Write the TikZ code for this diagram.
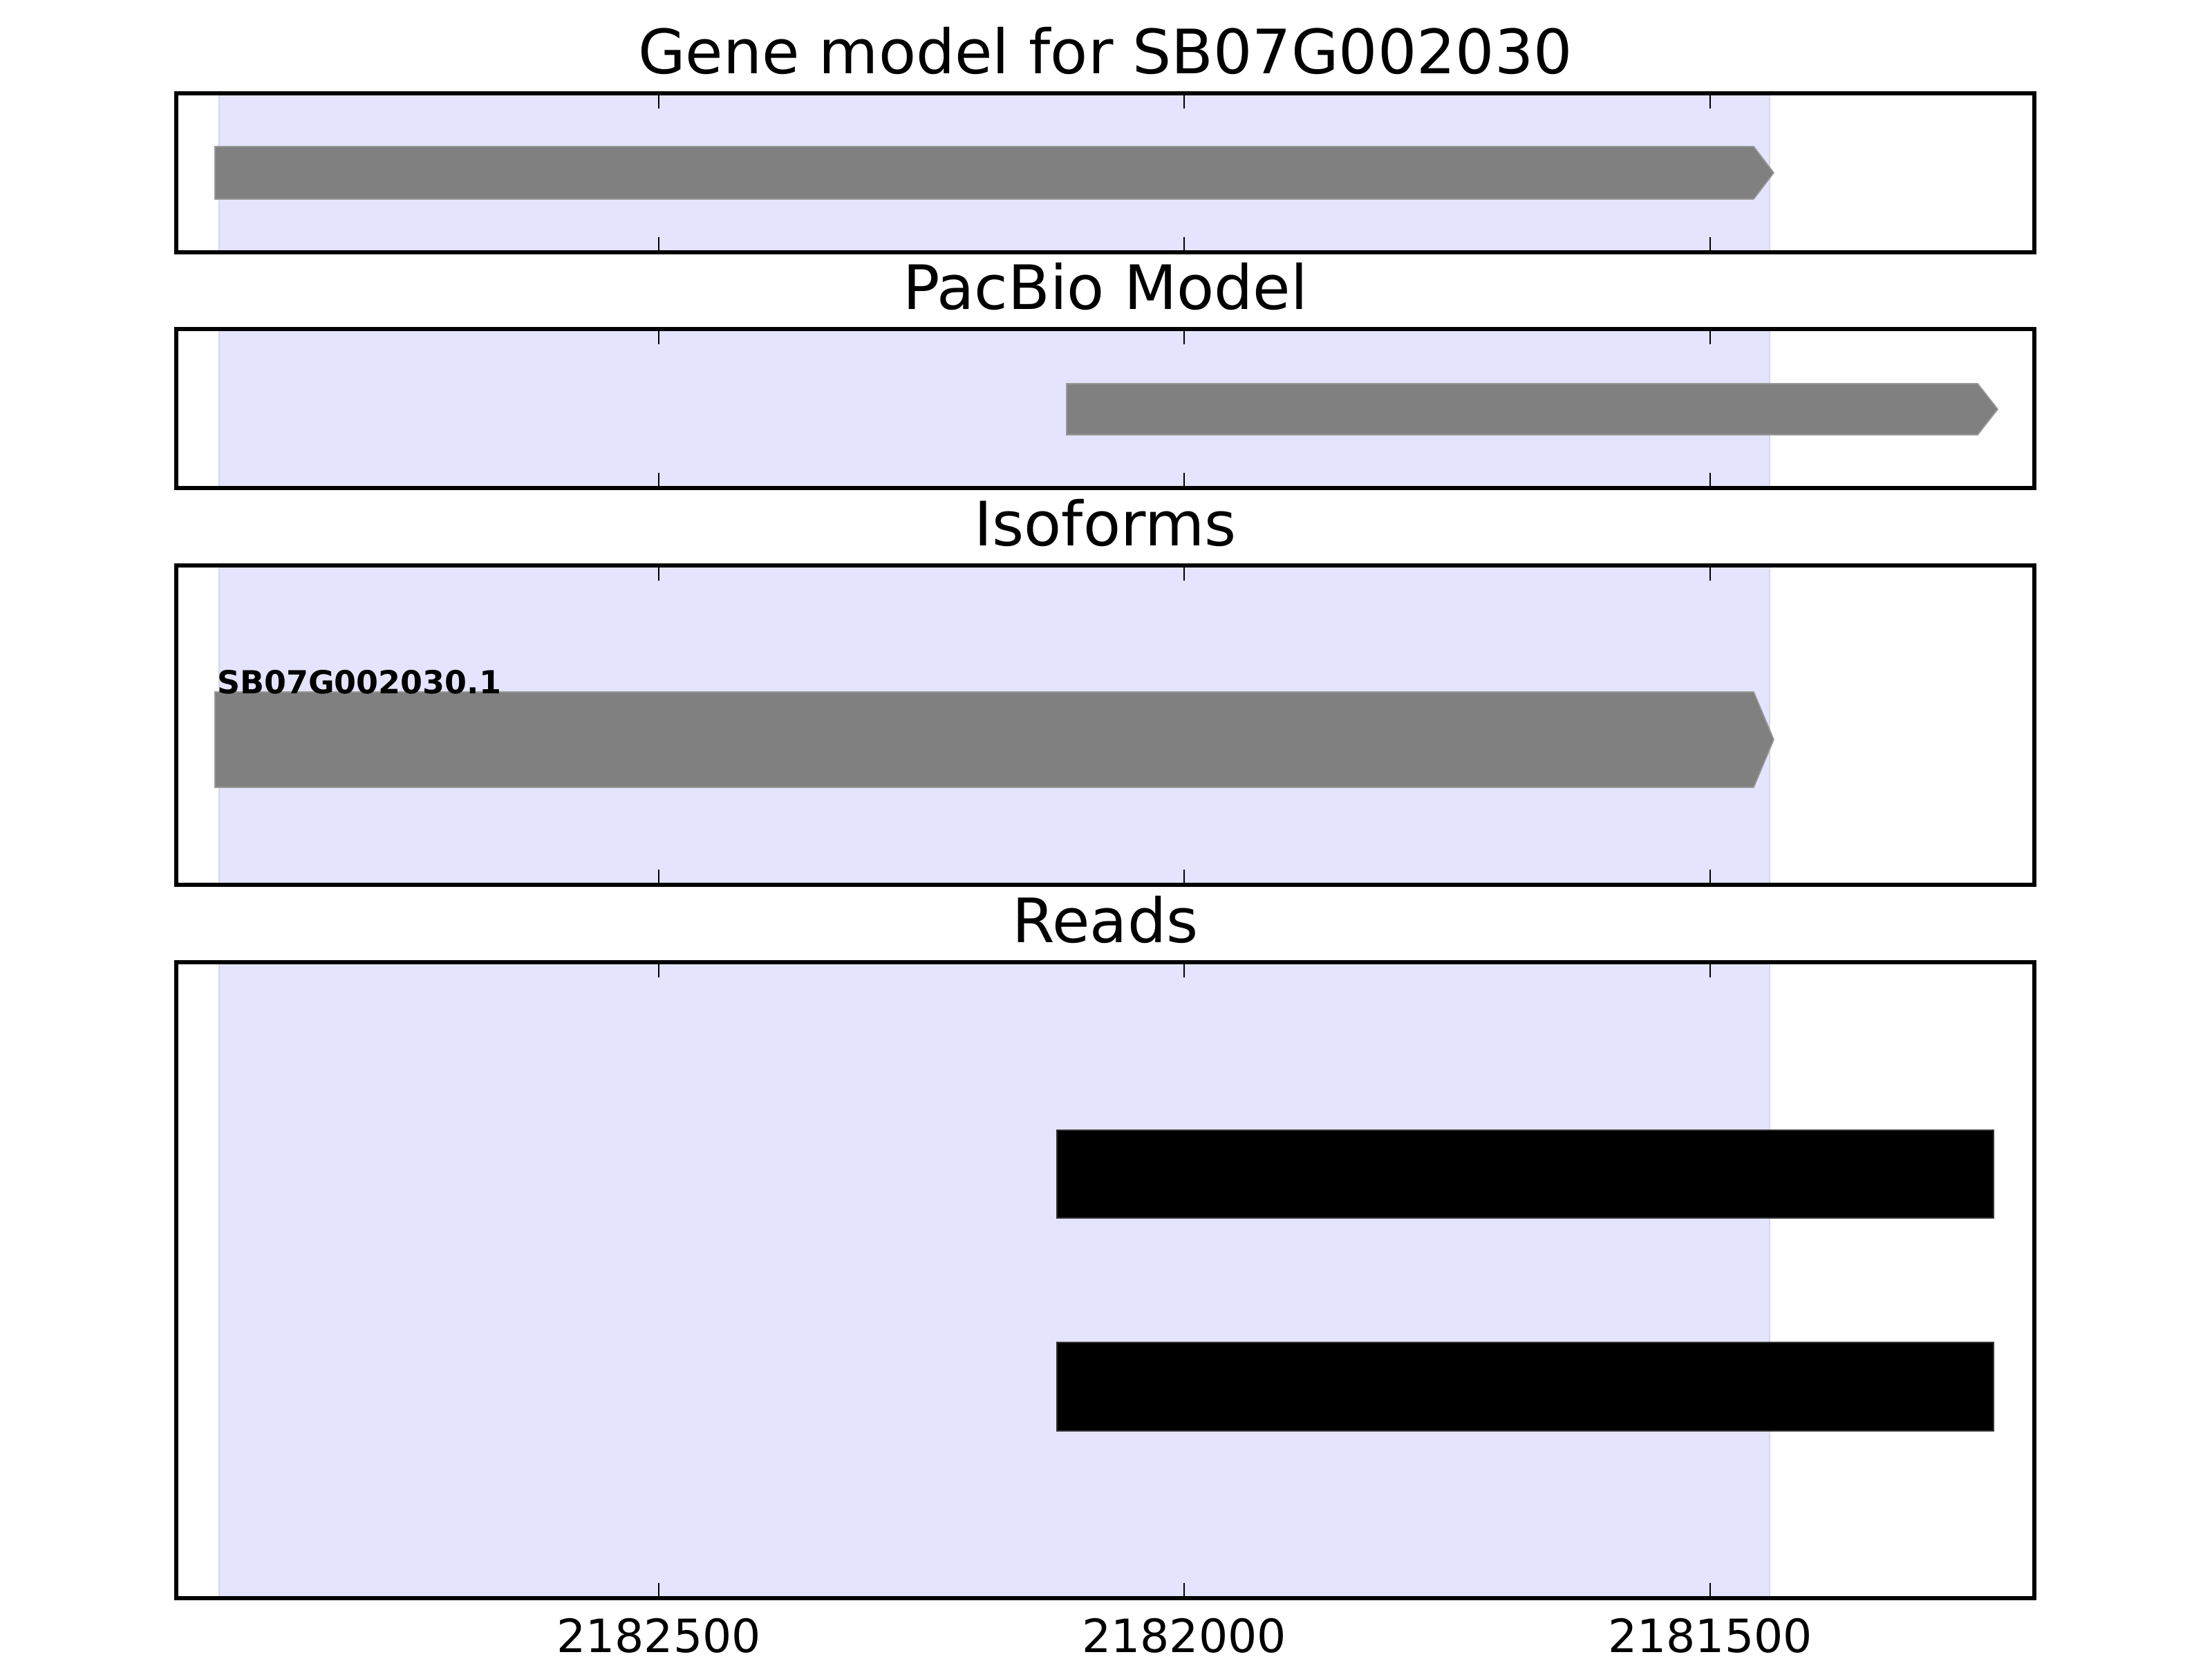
\documentclass[tikz,border=0pt]{standalone}
\usepackage{fontspec}
\setmainfont{DejaVu Sans}
\definecolor{spanblue}{RGB}{228,228,254}
\definecolor{spanedge}{RGB}{214,214,232}
\definecolor{exongray}{RGB}{128,128,128}
\begin{document}
\begin{tikzpicture}[
  x=1in, y=1in,
  panel/.style={draw=black, line width=1pt},
  span/.style={fill=spanblue, draw=spanedge, line width=0.5pt},
  exon/.style={fill=exongray, draw=exongray!80!white, line width=0.3pt},
  readbar/.style={fill=black, draw=black!80, line width=0.3pt},
  tickmark/.style={line width=0.5pt},
  paneltitle/.style={font=\fontsize{16}{19}\selectfont, anchor=base, inner sep=0pt},
  ticklabel/.style={font=\fontsize{12}{14}\selectfont, anchor=base, inner sep=0pt},
  isolabel/.style={font=\fontsize{8.3}{10}\selectfont\bfseries, anchor=base west, inner sep=0pt}
]
% 8in by 6in canvas, same as the 3200x2400 figure at 400 dpi.
\path[use as bounding box] (0,0) rectangle (8,6);

% Gene span shading, one strip per panel.
\filldraw[span] (0.7925,5.0875) rectangle (6.40,5.6625);
\filldraw[span] (0.7925,4.235) rectangle (6.40,4.81);
\filldraw[span] (0.7925,2.80) rectangle (6.40,3.955);
\filldraw[span] (0.7925,0.22) rectangle (6.40,2.52);

% Gene model and PacBio model.
\filldraw[exon] (0.7775,5.28) -- (6.3425,5.28) -- (6.415,5.375)
  -- (6.3425,5.47) -- (0.7775,5.47) -- cycle;
\filldraw[exon] (3.8575,4.4275) -- (7.1525,4.4275) -- (7.225,4.52)
  -- (7.1525,4.6125) -- (3.8575,4.6125) -- cycle;

% Isoform with its label.
\filldraw[exon] (0.7775,3.1525) -- (6.3425,3.1525) -- (6.415,3.325)
  -- (6.3425,3.4975) -- (0.7775,3.4975) -- cycle;
\node[isolabel] (iso1) at (0.7825,3.49) {SB07G002030.1};

% Reads.
\filldraw[readbar] (3.8225,1.595) rectangle (7.21,1.9125);
\filldraw[readbar] (3.8225,0.825) rectangle (7.21,1.145);

% Axes frames and inward ticks.
\draw[panel] (0.6375,5.0875) rectangle (7.3575,5.6625);
\draw[panel] (0.6375,4.235) rectangle (7.3575,4.81);
\draw[panel] (0.6375,2.80) rectangle (7.3575,3.955);
\draw[panel] (0.6375,0.22) rectangle (7.3575,2.52);
\foreach \lo/\hi in {5.0875/5.6625, 4.235/4.81, 2.80/3.955, 0.22/2.52}
  \foreach \tx in {2.3825,4.2825,6.185} {
    \draw[tickmark] (\tx,\lo) -- ++(0,4pt);
    \draw[tickmark] (\tx,\hi) -- ++(0,-4pt);
  }

% Panel titles.
\node[paneltitle] (t1) at (3.9975,5.7325) {Gene model for SB07G002030};
\node[paneltitle] (t2) at (3.9975,4.88) {PacBio Model};
\node[paneltitle] (t3) at (3.9975,4.025) {Isoforms};
\node[paneltitle] (t4) at (3.9975,2.59) {Reads};

% Position labels on the bottom axis (decreasing to the right).
\node[ticklabel] (l1) at (2.3825,0.025) {2182500};
\node[ticklabel] (l2) at (4.2825,0.025) {2182000};
\node[ticklabel] (l3) at (6.185,0.025) {2181500};
\end{tikzpicture}
\end{document}
